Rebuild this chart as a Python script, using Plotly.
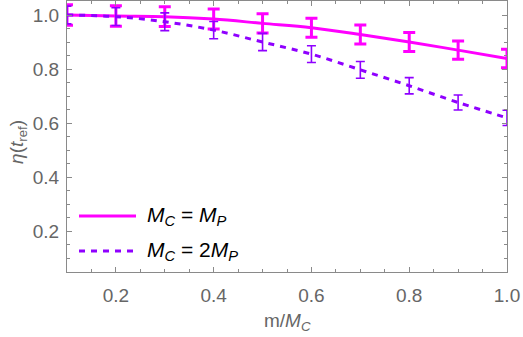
import plotly.graph_objects as go

x_vals = [0.1, 0.2, 0.3, 0.4, 0.5, 0.6, 0.7, 0.8, 0.9, 1.0]
eta_equal = [1.000, 0.996, 0.994, 0.985, 0.969, 0.953, 0.928, 0.900, 0.870, 0.839]
err_equal = [0.038, 0.038, 0.037, 0.037, 0.036, 0.035, 0.035, 0.035, 0.034, 0.034]
eta_double = [1.000, 0.994, 0.975, 0.944, 0.900, 0.855, 0.797, 0.738, 0.676, 0.619]
err_double = [0.033, 0.033, 0.033, 0.032, 0.032, 0.031, 0.031, 0.030, 0.028, 0.028]
tick_vals = [0.2, 0.4, 0.6, 0.8, 1.0]
tick_text = ["0.2", "0.4", "0.6", "0.8", "1.0"]

MAGENTA = "#FF00FF"
PURPLE = "#8F00FF"
FONT = "Liberation Sans"
GRAY = "#666666"
AXIS = "#8a8a8a"

fig = go.Figure()
fig.add_trace(go.Scatter(
    x=x_vals, y=eta_equal, mode="lines",
    line=dict(color=MAGENTA, width=3, shape="spline"),
    error_y=dict(type="data", array=err_equal, color=MAGENTA, thickness=3, width=6),
    showlegend=False))
fig.add_trace(go.Scatter(
    x=x_vals, y=eta_double, mode="lines",
    line=dict(color=PURPLE, width=3, dash="6px,6px", shape="spline"),
    error_y=dict(type="data", array=err_double, color=PURPLE, thickness=1.6, width=4.5),
    showlegend=False))

axis_common = dict(
    showgrid=False, zeroline=False, showline=True, linecolor=AXIS, linewidth=1,
    mirror="allticks", ticks="inside", ticklen=5, tickwidth=1, tickcolor=AXIS,
    tickvals=tick_vals, ticktext=tick_text,
    tickfont=dict(family=FONT, size=19, color=GRAY),
    minor=dict(ticks="inside", ticklen=3, tickcolor=AXIS, dtick=0.05, showgrid=False),
)
fig.update_xaxes(range=[0.1, 1.0], ticklabelstandoff=6, **axis_common)
fig.update_yaxes(range=[0.0482, 1.0519], ticklabelstandoff=3, **axis_common)

# legend (keys + labels)
fig.add_shape(type="line", xref="paper", yref="paper", x0=12/440, x1=69/440,
              y0=(271 - 215)/271, y1=(271 - 215)/271,
              line=dict(color=MAGENTA, width=3))
fig.add_shape(type="line", xref="paper", yref="paper", x0=12/440, x1=69/440,
              y0=(271 - 250)/271, y1=(271 - 250)/271,
              line=dict(color=PURPLE, width=3, dash="6px,6px"))
fig.add_annotation(xref="paper", yref="paper", x=78/440, y=(271 - 215)/271,
                   xanchor="left", yanchor="middle", showarrow=False,
                   text="<i>M</i><sub><i>C</i></sub> = <i>M</i><sub><i>P</i></sub>",
                   font=dict(family=FONT, size=21, color="black"))
fig.add_annotation(xref="paper", yref="paper", x=78/440, y=(271 - 250)/271,
                   xanchor="left", yanchor="middle", showarrow=False,
                   text="<i>M</i><sub><i>C</i></sub> = 2<i>M</i><sub><i>P</i></sub>",
                   font=dict(family=FONT, size=21, color="black"))

# axis titles
fig.add_annotation(xref="paper", yref="paper", x=0.5, y=0, yshift=-50,
                   xanchor="center", yanchor="middle", showarrow=False,
                   text="m/<i>M</i><sub><i>C</i></sub>",
                   font=dict(family=FONT, size=19, color=GRAY))
fig.add_annotation(xref="paper", yref="paper", x=0, xshift=-49, y=0.48,
                   xanchor="center", yanchor="middle", showarrow=False, textangle=-90,
                   text="<i>η</i>(<i>t</i><sub>ref</sub>)",
                   font=dict(family=FONT, size=19, color=GRAY))

fig.update_layout(
    width=523, height=337,
    margin=dict(l=67, r=16, t=1, b=65),
    paper_bgcolor="white", plot_bgcolor="white",
)
fig.write_html("out.html", config={"displayModeBar": False},
               post_script="document.body.style.margin='0';document.body.style.overflow='hidden';")
